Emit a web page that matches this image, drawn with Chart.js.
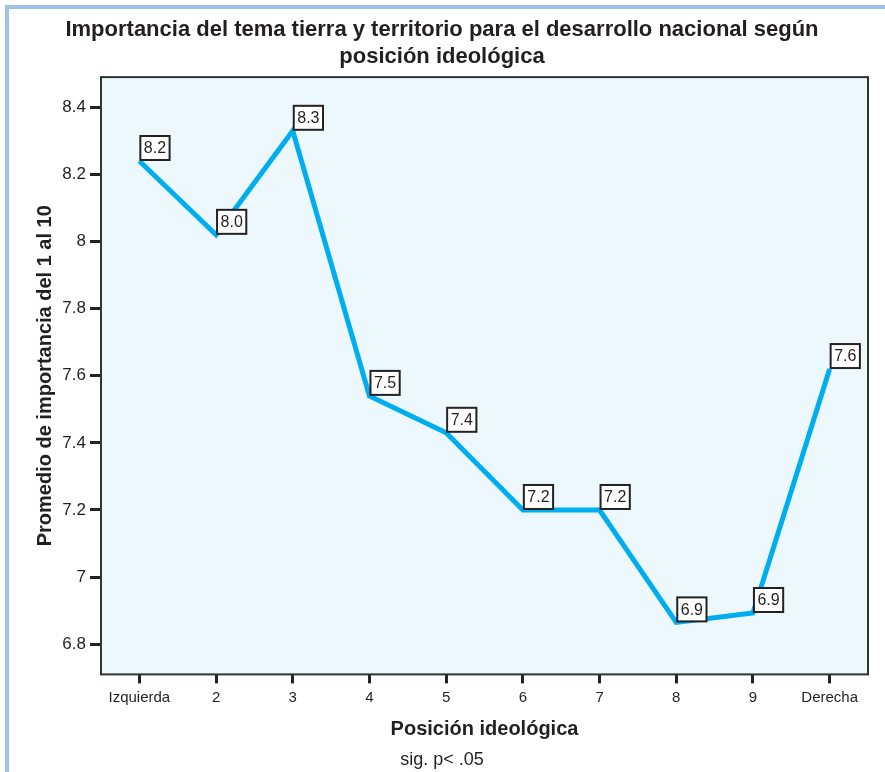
<!DOCTYPE html>
<html>
<head>
<meta charset="utf-8">
<script src="https://cdn.jsdelivr.net/npm/chart.js@4/dist/chart.umd.min.js"></script>
<style>
  html, body { margin: 0; padding: 0; background: #fff; }
  #wrap { position: relative; width: 885px; height: 772px; }
</style>
</head>
<body>
<div id="wrap"><canvas id="grafico" width="885" height="772"></canvas></div>
<script>
// ------------------------------------------------------
// Datos
// ------------------------------------------------------
const categorias = ["Izquierda", "2", "3", "4", "5", "6", "7", "8", "9", "Derecha"];
const promedios = [8.24, 8.02, 8.33, 7.54, 7.43, 7.2, 7.2, 6.865, 6.893, 7.62];
const ticksY = [6.8, 7, 7.2, 7.4, 7.6, 7.8, 8, 8.2, 8.4];

const FUENTE = "'Liberation Sans', Arial, Helvetica, sans-serif";
const TINTA = "#231f20";

// marco azul, fondo del area y borde del grafico
const marcoPlugin = {
  id: "marco",
  beforeDraw(chart) {
    const { ctx, chartArea: a } = chart;
    ctx.save();
    ctx.fillStyle = "#9dc3e6";
    ctx.fillRect(5, 5, chart.width - 5, 4);
    ctx.fillRect(5, 5, 4, chart.height - 5);
    ctx.fillStyle = "#edf8fd";
    ctx.fillRect(a.left, a.top, a.right - a.left, a.bottom - a.top);
    ctx.restore();
  },
  afterDraw(chart) {
    const { ctx, chartArea: a } = chart;
    ctx.save();
    ctx.strokeStyle = "#333";
    ctx.lineWidth = 2;
    ctx.strokeRect(a.left, a.top, a.right - a.left, a.bottom - a.top);
    ctx.restore();
  },
};

// etiquetas con recuadro sobre cada punto
const etiquetasPlugin = {
  id: "etiquetas",
  afterDatasetsDraw(chart) {
    const { ctx } = chart;
    const meta = chart.getDatasetMeta(0);
    ctx.save();
    ctx.font = "16px " + FUENTE;
    ctx.textBaseline = "middle";
    meta.data.forEach((pt, i) => {
      const txt = promedios[i].toFixed(1);
      const w = ctx.measureText(txt).width + 7;
      const h = 24;
      const x = pt.x + 1;
      const y = pt.y - h - 1;
      ctx.fillStyle = "#fff";
      ctx.fillRect(x, y, w, h);
      ctx.strokeStyle = "#222";
      ctx.lineWidth = 2;
      ctx.strokeRect(x, y, w, h);
      ctx.fillStyle = TINTA;
      ctx.fillText(txt, x + 3.5, y + h / 2 + 1);
    });
    ctx.restore();
  },
};

new Chart(document.getElementById("grafico"), {
  type: "line",
  data: {
    labels: categorias,
    datasets: [
      {
        data: promedios,
        borderColor: "#00aeef",
        borderWidth: 5,
        tension: 0,
        pointRadius: 0,
        fill: false,
      },
    ],
  },
  options: {
    responsive: false,
    animation: false,
    layout: { padding: { left: 16, right: 17, top: 16, bottom: 1 } },
    plugins: {
      legend: { display: false },
      tooltip: { enabled: false },
      title: {
        display: true,
        text: [
          "Importancia del tema tierra y territorio para el desarrollo nacional según",
          "posición ideológica",
        ],
        color: TINTA,
        font: { family: FUENTE, size: 22, weight: "bold", lineHeight: 1.23 },
        padding: { top: 0, bottom: 7 },
      },
      subtitle: {
        display: true,
        position: "bottom",
        text: "sig. p< .05",
        color: TINTA,
        font: { family: FUENTE, size: 18 },
        padding: 0,
      },
    },
    scales: {
      x: {
        offset: true,
        afterFit(scale) {
          scale.height = 75;
        },
        grid: {
          display: true,
          drawOnChartArea: false,
          drawTicks: true,
          tickLength: 9,
          tickWidth: 3,
          tickColor: "#222",
          offset: false,
        },
        border: { display: false },
        ticks: {
          color: TINTA,
          font: { family: FUENTE, size: 15 },
          maxRotation: 0,
          autoSkip: false,
          padding: 5,
        },
        title: {
          display: true,
          text: "Posición ideológica",
          color: TINTA,
          font: { family: FUENTE, size: 20, weight: "bold" },
          padding: { top: 0, bottom: 8 },
        },
      },
      y: {
        min: 6.71,
        max: 8.49,
        afterBuildTicks(scale) {
          scale.ticks = ticksY.map((v) => ({ value: v }));
        },
        afterFit(scale) {
          scale.width = 101 - 16;
        },
        grid: {
          display: true,
          drawOnChartArea: false,
          drawTicks: true,
          tickLength: 11,
          tickWidth: 3,
          tickColor: "#222",
        },
        border: { display: false },
        ticks: {
          color: TINTA,
          font: { family: FUENTE, size: 17 },
          padding: 4,
          callback: (v) => String(v),
        },
        title: {
          display: true,
          text: "Promedio de importancia del 1 al 10",
          color: TINTA,
          font: { family: FUENTE, size: 20, weight: "bold" },
          padding: { top: 17, bottom: 0 },
        },
      },
    },
  },
  plugins: [marcoPlugin, etiquetasPlugin],
});
</script>
</body>
</html>
